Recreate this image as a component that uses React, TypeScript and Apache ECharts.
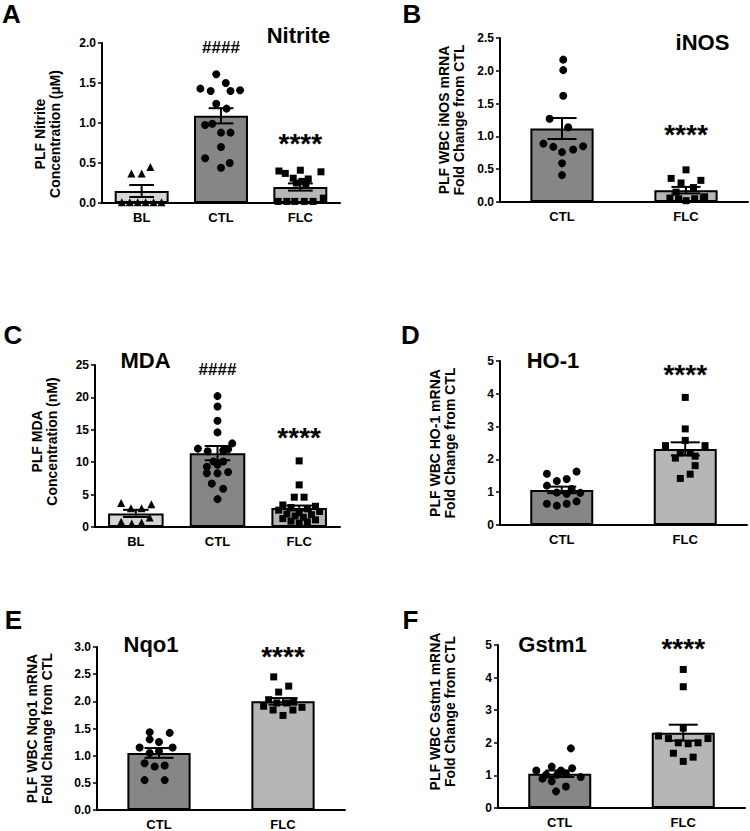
import React, { useEffect, useRef } from "react";
import * as echarts from "echarts";

const FONT = "Liberation Sans, Arial, sans-serif";
const C_BL = "#d6d6d6";
const C_CTL = "#868686";
const C_FLC = "#b6b6b6";

// ---------- Panel A: Nitrite ----------
const nitriteCats = ["BL", "CTL", "FLC"];
const nitriteMean = [0.15, 1.09, 0.2];
const nitriteSem = [0.075, 0.095, 0.045];
// [horizontal jitter (category units), value]
const nitriteBL: [number, number][] = [
  [-0.13, 0.37], [0, 0.37], [0.11, 0.45], [-0.25, 0.01], [-0.15, 0.01],
  [-0.05, 0.01], [0.05, 0.01], [0.15, 0.01], [0.25, 0.01],
];
const nitriteCTL: [number, number][] = [
  [-0.06, 1.61], [-0.26, 1.43], [-0.13, 1.4], [0.06, 1.5], [0.12, 1.4], [0.24, 1.41],
  [-0.06, 1.24], [0.07, 1.18], [-0.2, 0.975], [-0.11, 0.99], [0.12, 0.88], [0.0, 0.88],
  [0, 0.7], [-0.2, 0.56], [0.11, 0.5], [0, 0.44],
];
const nitriteFLC: [number, number][] = [
  [-0.27, 0.4], [-0.19, 0.37], [0, 0.41], [-0.09, 0.31], [0.1, 0.3], [0.26, 0.39],
  [0.02, 0.27], [-0.05, 0.25], [0.07, 0.22], [-0.28, 0.02], [-0.17, 0.02],
  [-0.07, 0.02], [0.05, 0.02], [0.16, 0.02], [0.29, 0.06],
];

// ---------- Panel B: iNOS ----------
const inosCats = ["CTL", "FLC"];
const inosMean = [1.12, 0.18];
const inosSem = [0.16, 0.05];
const inosCTL: [number, number][] = [
  [0.01, 2.17], [0.01, 2.01], [0.01, 1.62], [-0.1, 1.27], [0.05, 1.14], [-0.15, 0.89],
  [-0.07, 0.84], [0, 0.76], [0.09, 0.8], [0.17, 0.85], [0, 0.59], [0, 0.41],
];
const inosFLC: [number, number][] = [
  [0, 0.49], [-0.12, 0.36], [0.12, 0.33], [-0.04, 0.29], [0.06, 0.22], [-0.08, 0.15],
  [0.15, 0.08], [-0.13, 0.06], [-0.06, 0.05], [0, 0.02], [0.07, 0.05], [0.14, 0.06],
];

// ---------- Panel C: MDA ----------
const mdaCats = ["BL", "CTL", "FLC"];
const mdaMean = [2.1, 11.4, 2.93];
const mdaSem = [0.55, 1.1, 0.38];
const mdaBL: [number, number][] = [
  [-0.18, 3.7], [-0.06, 2.9], [0.07, 2.9], [0.19, 3.5], [0.17, 1.45], [-0.18, 0.8],
  [-0.05, 0.55], [0.07, 0.7],
];
const mdaCTL: [number, number][] = [
  [0, 20.2], [0, 18.6], [0, 16.4], [0, 14.6], [0.18, 12.9], [-0.24, 12.1], [0.07, 11.8],
  [-0.12, 11.7], [-0.05, 10.1], [0.07, 10.1], [0, 9.6], [-0.13, 9.3], [0.13, 8.5],
  [-0.13, 8.3], [0, 8.3], [-0.07, 6.7], [0.07, 5.9], [0, 4.3], [0.13, 12.0],
];
const mdaFLC: [number, number][] = [
  [0, 10.2], [0, 6.5], [-0.06, 4.6], [0.06, 4.6], [-0.2, 3.4], [0.2, 3.2], [-0.1, 3.0],
  [0.1, 2.8], [-0.25, 2.6], [0.25, 2.4], [0, 2.2], [-0.15, 2.0], [0.15, 1.9],
  [-0.05, 1.7], [0.05, 1.5], [-0.2, 1.3], [0.2, 1.1], [-0.1, 0.9], [0.1, 0.8], [0, 0.6],
];

// ---------- Panel D: HO-1 ----------
const ho1Cats = ["CTL", "FLC"];
const ho1Mean = [1.07, 2.32];
const ho1Sem = [0.1, 0.2];
const ho1CTL: [number, number][] = [
  [-0.12, 1.56], [-0.04, 1.34], [0.04, 1.4], [0.12, 1.63], [-0.12, 1.2], [-0.04, 0.99],
  [0.04, 0.95], [0.08, 1.1], [0.15, 0.98], [-0.12, 0.65], [-0.04, 0.59], [0.04, 0.65],
  [0.12, 0.72],
];
const ho1FLC: [number, number][] = [
  [0, 3.89], [0, 2.93], [0, 2.58], [-0.16, 2.42], [0.16, 2.42], [-0.04, 2.2], [0.04, 2.2],
  [-0.08, 2.04], [0.08, 2.1], [0.08, 1.81], [-0.04, 1.42], [0.04, 1.55],
];

// ---------- Panel E: Nqo1 ----------
const nqoCats = ["CTL", "FLC"];
const nqoMean = [1.05, 2.0];
const nqoSem = [0.09, 0.06];
const nqoCTL: [number, number][] = [
  [-0.075, 1.43], [0.086, 1.42], [-0.156, 1.15], [-0.075, 1.3], [0, 1.25], [0.11, 1.15],
  [-0.075, 1.05], [0, 1.08], [-0.116, 0.86], [-0.035, 0.8], [0.046, 0.82],
  [-0.116, 0.55], [0.046, 0.55],
];
const nqoFLC: [number, number][] = [
  [-0.075, 2.45], [0.046, 2.28], [-0.035, 2.17], [-0.116, 2.03], [0.086, 2.0],
  [0.03, 1.97], [-0.05, 1.97], [-0.156, 1.91], [0.153, 1.89], [-0.08, 1.84],
  [0.08, 1.84], [0, 1.74],
];

// ---------- Panel F: Gstm1 ----------
const gstCats = ["CTL", "FLC"];
const gstMean = [1.05, 2.31];
const gstSem = [0.1, 0.245];
const gstCTL: [number, number][] = [
  [0.09, 1.83], [-0.19, 1.15], [-0.065, 1.27], [0.1, 1.22], [-0.11, 1.02], [-0.02, 1.02],
  [0.05, 1.06], [0.01, 1.15], [0.17, 0.95], [-0.14, 0.9], [-0.065, 0.82], [0.05, 0.66],
  [-0.03, 0.51],
];
const gstFLC: [number, number][] = [
  [0, 4.25], [0, 3.72], [0, 2.45], [-0.2, 2.21], [-0.12, 2.13], [-0.04, 2.0], [0.04, 1.97],
  [0.12, 2.0], [0.2, 2.13], [-0.08, 1.68], [0.08, 1.56], [0, 1.43],
];

type Group = { pts: [number, number][]; cat: number; symbol: string; size: number };
type Panel = {
  grid: { left: number; top: number; width: number; height: number };
  cats: string[];
  means: number[];
  sems: number[];
  colors: string[];
  groups: Group[];
  yMax: number;
  interval: number;
  decimals: number;
  barFrac: number;
  notes: [number, number, string, number][];
};

const TRI = "triangle";
const panels: Panel[] = [
  {
    grid: { left: 102, top: 43, width: 238, height: 160 },
    cats: nitriteCats, means: nitriteMean, sems: nitriteSem, colors: [C_BL, C_CTL, C_FLC],
    groups: [
      { pts: nitriteBL, cat: 0, symbol: TRI, size: 8 },
      { pts: nitriteCTL, cat: 1, symbol: "circle", size: 8 },
      { pts: nitriteFLC, cat: 2, symbol: "rect", size: 7 },
    ],
    yMax: 2, interval: 0.5, decimals: 1, barFrac: 0.68,
    notes: [[1, 1.94, "####", 17], [2, 0.81, "****", 28]],
  },
  {
    grid: { left: 500, top: 38, width: 248, height: 164 },
    cats: inosCats, means: inosMean, sems: inosSem, colors: [C_CTL, C_FLC],
    groups: [
      { pts: inosCTL, cat: 0, symbol: "circle", size: 8 },
      { pts: inosFLC, cat: 1, symbol: "rect", size: 7 },
    ],
    yMax: 2.5, interval: 0.5, decimals: 1, barFrac: 0.51,
    notes: [[1, 1.11, "****", 28]],
  },
  {
    grid: { left: 95, top: 365, width: 245, height: 162 },
    cats: mdaCats, means: mdaMean, sems: mdaSem, colors: [C_BL, C_CTL, C_FLC],
    groups: [
      { pts: mdaBL, cat: 0, symbol: TRI, size: 8 },
      { pts: mdaCTL, cat: 1, symbol: "circle", size: 8 },
      { pts: mdaFLC, cat: 2, symbol: "rect", size: 7 },
    ],
    yMax: 25, interval: 5, decimals: 0, barFrac: 0.68,
    notes: [[1, 24.3, "####", 17], [2, 14.6, "****", 28]],
  },
  {
    grid: { left: 500, top: 361, width: 247, height: 164 },
    cats: ho1Cats, means: ho1Mean, sems: ho1Sem, colors: [C_CTL, C_FLC],
    groups: [
      { pts: ho1CTL, cat: 0, symbol: "circle", size: 8 },
      { pts: ho1FLC, cat: 1, symbol: "rect", size: 7 },
    ],
    yMax: 5, interval: 1, decimals: 0, barFrac: 0.51,
    notes: [[1, 4.73, "****", 28]],
  },
  {
    grid: { left: 97, top: 647, width: 248, height: 164 },
    cats: nqoCats, means: nqoMean, sems: nqoSem, colors: [C_CTL, C_FLC],
    groups: [
      { pts: nqoCTL, cat: 0, symbol: "circle", size: 8 },
      { pts: nqoFLC, cat: 1, symbol: "rect", size: 7 },
    ],
    yMax: 3, interval: 0.5, decimals: 1, barFrac: 0.51,
    notes: [[1, 2.92, "****", 28]],
  },
  {
    grid: { left: 498, top: 645, width: 247, height: 163 },
    cats: gstCats, means: gstMean, sems: gstSem, colors: [C_CTL, C_FLC],
    groups: [
      { pts: gstCTL, cat: 0, symbol: "circle", size: 8 },
      { pts: gstFLC, cat: 1, symbol: "rect", size: 7 },
    ],
    yMax: 5, interval: 1, decimals: 0, barFrac: 0.51,
    notes: [[1, 5.05, "****", 28]],
  },
];

const panelLetters: [string, number, number][] = [
  ["A", 11.5, 14], ["B", 412, 14], ["C", 13, 335], ["D", 410.5, 335], ["E", 13.5, 620], ["F", 410.5, 620],
];
const panelTitles: [string, number, number][] = [
  ["Nitrite", 298.5, 35], ["iNOS", 702.5, 42], ["MDA", 145.5, 360], ["HO-1", 553, 360],
  ["Nqo1", 151, 644], ["Gstm1", 552.5, 644],
];
const yNames: [string, number, number][] = [
  ["PLF Nitrite\nConcentration (µM)", 47, 134],
  ["PLF WBC iNOS mRNA\nFold Change from CTL", 451, 120],
  ["PLF MDA\nConcentration (nM)", 44.6, 441.5],
  ["PLF WBC HO-1 mRNA\nFold Change from CTL", 442, 443],
  ["PLF WBC Nqo1 mRNA\nFold Change from CTL", 39, 728.5],
  ["PLF WBC Gstm1 mRNA\nFold Change from CTL", 442, 711.5],
];

function buildOption() {
  const grid: any[] = [];
  const xAxis: any[] = [];
  const yAxis: any[] = [];
  const series: any[] = [];
  panels.forEach((p, pi) => {
    grid.push({ ...p.grid, containLabel: false });
    xAxis.push({
      type: "category",
      gridIndex: pi,
      data: p.cats,
      axisLine: { onZero: false, lineStyle: { color: "#000", width: 2 } },
      axisTick: { alignWithLabel: true, length: 5, lineStyle: { color: "#000", width: 1.5 } },
      axisLabel: { color: "#000", fontWeight: "bold", fontSize: 13, fontFamily: FONT, margin: 8 },
    });
    xAxis.push({
      type: "value",
      gridIndex: pi,
      min: -0.5,
      max: p.cats.length - 0.5,
      show: false,
    });
    yAxis.push({
      type: "value",
      gridIndex: pi,
      min: 0,
      max: p.yMax,
      interval: p.interval,
      splitLine: { show: false },
      axisLine: { show: true, onZero: false, lineStyle: { color: "#000", width: 2 } },
      axisTick: { show: true, length: 4, lineStyle: { color: "#000", width: 1.5 } },
      axisLabel: {
        color: "#000",
        fontWeight: "bold",
        fontSize: 12,
        fontFamily: FONT,
        margin: 6,
        formatter: (v: number) => v.toFixed(p.decimals),
      },
    });
    series.push({
      type: "bar",
      xAxisIndex: pi * 2,
      yAxisIndex: pi,
      barWidth: `${p.barFrac * 100}%`,
      data: p.means.map((v, i) => ({ value: v, itemStyle: { color: p.colors[i] } })),
      itemStyle: { borderColor: "#000", borderWidth: 2 },
      z: 1,
    });
    p.groups.forEach((g) => {
      series.push({
        type: "scatter",
        xAxisIndex: pi * 2 + 1,
        yAxisIndex: pi,
        symbol: g.symbol,
        symbolSize: g.size,
        itemStyle: { color: "#000", opacity: 1 },
        data: g.pts.map(([o, v]) => [g.cat + o, v]),
        z: 3,
      });
    });
    series.push({
      type: "custom",
      xAxisIndex: pi * 2,
      yAxisIndex: pi,
      z: 4,
      data: p.means.map((m, i) => [i, m, p.sems[i]]),
      encode: { x: 0, y: 1 },
      renderItem: (_params: any, api: any) => {
        const i = api.value(0);
        const m = api.value(1);
        const s = api.value(2);
        const top = api.coord([i, m + s]);
        const bot = api.coord([i, m - s]);
        const band = api.size([1, 0])[0];
        const hw = band * p.barFrac * 0.23;
        const st = { stroke: "#000", lineWidth: 2 };
        return {
          type: "group",
          children: [
            { type: "line", shape: { x1: top[0], y1: top[1], x2: bot[0], y2: bot[1] }, style: st },
            { type: "line", shape: { x1: top[0] - hw, y1: top[1], x2: top[0] + hw, y2: top[1] }, style: st },
            { type: "line", shape: { x1: bot[0] - hw, y1: bot[1], x2: bot[0] + hw, y2: bot[1] }, style: st },
          ],
        };
      },
    });
    series.push({
      type: "custom",
      xAxisIndex: pi * 2,
      yAxisIndex: pi,
      z: 5,
      clip: false,
      data: p.notes.map((n) => [n[0], n[1]]),
      encode: { x: 0, y: 1 },
      renderItem: (params: any, api: any) => {
        const n = p.notes[params.dataIndex];
        const pt = api.coord([api.value(0), api.value(1)]);
        const isStar = n[2].indexOf("*") >= 0;
        return {
          type: "text",
          x: pt[0],
          y: pt[1] + (isStar ? 5 : 0),
          style: {
            text: n[2],
            font: `bold ${n[3]}px ${FONT}`,
            fill: "#000",
            align: "center",
            verticalAlign: "middle",
            textAlign: "center",
            textVerticalAlign: "middle",
          },
        };
      },
    });
  });

  const graphic: any[] = [];
  panelLetters.forEach(([t, x, y]) => {
    graphic.push({
      type: "text", x, y,
      style: { text: t, font: `bold 26px ${FONT}`, fill: "#000", align: "center", verticalAlign: "middle" },
    });
  });
  panelTitles.forEach(([t, x, y]) => {
    graphic.push({
      type: "text", x, y,
      style: { text: t, font: `bold 22px ${FONT}`, fill: "#000", align: "center", verticalAlign: "middle" },
    });
  });
  yNames.forEach(([t, x, y]) => {
    graphic.push({
      type: "text", x, y, rotation: Math.PI / 2,
      style: {
        text: t, font: `bold 14px ${FONT}`, fill: "#000", align: "center", verticalAlign: "middle",
        lineHeight: 15,
      },
    });
  });

  return { animation: false, backgroundColor: "#fff", grid, xAxis, yAxis, series, graphic };
}

export default function App() {
  const ref = useRef<HTMLDivElement>(null);
  useEffect(() => {
    if (!ref.current) return;
    const chart = echarts.init(ref.current, undefined, { renderer: "svg" });
    chart.setOption(buildOption() as any);
    return () => chart.dispose();
  }, []);
  return (
    <div
      ref={ref}
      style={{ position: "absolute", left: 0, top: 0, width: 750, height: 831, background: "#fff" }}
    />
  );
}
